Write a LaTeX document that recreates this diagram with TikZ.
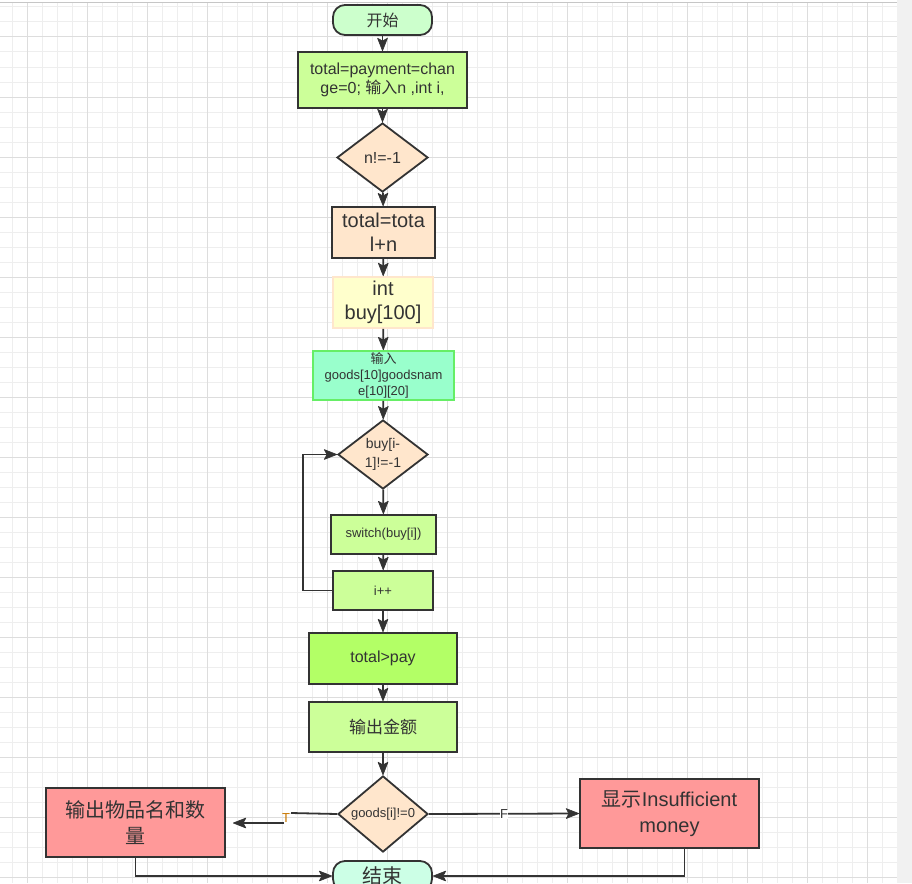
\documentclass[tikz,border=0pt]{standalone}
\usepackage{fontspec}
\setmainfont{Liberation Sans}
\newfontfamily\cjk{Noto Sans CJK SC}
\usetikzlibrary{arrows.meta,shapes.geometric}
\definecolor{ink}{HTML}{333333}
\definecolor{gminor}{HTML}{EEEEEE}
\definecolor{gmajor}{HTML}{DDDDDD}
\definecolor{fgreen}{HTML}{CCFF99}
\definecolor{fpeach}{HTML}{FFE6CC}
\definecolor{fyellow}{HTML}{FFFFCC}
\definecolor{fmint}{HTML}{99FFCC}
\definecolor{bmint}{HTML}{66EE66}
\definecolor{flime}{HTML}{B3FF66}
\definecolor{fred}{HTML}{FF9999}
\definecolor{fstart}{HTML}{CCFFCC}
\definecolor{fend}{HTML}{CCFFE6}
\definecolor{tcol}{HTML}{C87800}
\newcommand{\fs}[2]{\fontsize{#1}{#2}\selectfont}
\tikzset{
  base/.style={draw=ink, line width=1.8pt, text=ink, align=center, inner sep=0pt},
  boxnode/.style={base, rectangle},
  termnode/.style={base, rectangle, rounded corners=12pt, minimum width=99pt, minimum height=30pt},
  decnode/.style={base, diamond, minimum width=90pt, minimum height=69pt},
  conn/.style={draw=ink, line width=1.8pt},
  arr/.style={conn, -{Stealth[length=14pt,width=11pt,inset=3pt,line width=0.6pt,round]}},
}
\begin{document}
\begin{tikzpicture}[x=1pt,y=-1pt]
\useasboundingbox (0,0) rectangle (912,883);
\clip (0,0) rectangle (912,883);
\fill[white] (0,0) rectangle (912,883);
% grid
\foreach \x in {12,27,...,897} \draw[gminor, line width=1pt] (\x,3) -- (\x,883);
\foreach \y in {7,22,...,883} \draw[gminor, line width=1pt] (0,\y) -- (897,\y);
\foreach \x in {27,87,...,897} \draw[gmajor, line width=1pt] (\x,3) -- (\x,883);
\foreach \y in {37,97,...,883} \draw[gmajor, line width=1pt] (0,\y) -- (897,\y);
\draw[gray!45, line width=1pt] (0,3) -- (897,3);
\fill[gminor!80!white] (897,0) rectangle (912,883);

% nodes
\node[termnode, fill=fstart, font=\fs{16}{19}\cjk] (start) at (382.5,20) {开始};
\node[boxnode, fill=fgreen, minimum width=169pt, minimum height=56pt, font=\fs{16}{19}] (b1) at (382.5,80)
  {total=payment=chan\\ge=0; {\cjk 输入}n ,int i,};
\node[decnode, fill=fpeach, minimum width=91pt, font=\fs{16}{19}] (d1) at (382.5,157.5) {n!=-1};
\node[boxnode, fill=fpeach, minimum width=103pt, minimum height=51pt, font=\fs{20}{24}] (b2) at (383.5,232.5)
  {total=tota\\l+n};
\node[boxnode, fill=fyellow, draw=fpeach, minimum width=100pt, minimum height=51pt, font=\fs{20}{24}] (b3) at (383,302.5)
  {int\\buy[100]};
\node[boxnode, fill=fmint, draw=bmint, minimum width=141pt, minimum height=49pt, font=\fs{13}{16}] (b4) at (383.5,375.5)
  {{\cjk 输入}\\goods[10]goodsnam\\e[10][20]};
\node[decnode, fill=fpeach, font=\fs{14}{19}] (d2) at (383,454.5) {buy[i-\\1]!=-1};
\node[boxnode, fill=fgreen, minimum width=105pt, minimum height=39pt, font=\fs{13}{16}] (b5) at (383.5,534.5)
  {switch(buy[i])};
\node[boxnode, fill=fgreen, minimum width=100pt, minimum height=39pt, font=\fs{13}{16}] (b6) at (383,590.5)
  {i++};
\node[boxnode, fill=flime, minimum width=148pt, minimum height=51pt, font=\fs{16}{19}] (b7) at (383,658.5)
  {total>pay};
\node[boxnode, fill=fgreen, minimum width=148pt, minimum height=50pt, font=\fs{17}{20}\cjk] (b8) at (383,727)
  {输出金额};
\node[decnode, fill=fpeach, minimum height=70pt, font=\fs{13}{16}] (d3) at (383,814) {goods[i]!=0};
\node[boxnode, fill=fred, minimum width=179pt, minimum height=69pt, font=\fs{20}{26}\cjk] (b9) at (135.5,822.5)
  {输出物品名和数\\量};
\node[boxnode, fill=fred, minimum width=179pt, minimum height=69pt, font=\fs{20}{26}] (b10) at (669.5,813.5)
  {{\cjk 显示}Insufficient\\money};
\node[termnode, fill=fend, font=\fs{20}{24}\cjk] (end) at (382.5,876) {结束};

% connectors
\draw[arr] (start) -- (b1);
\draw[arr] (b1) -- (d1);
\draw[arr] (d1) -- (b2);
\draw[arr] (b2) -- (b3);
\draw[arr] (b3) -- (b4);
\draw[arr] (b4) -- (d2);
\draw[arr] (d2) -- (b5);
\draw[arr] (b5) -- (b6);
\draw[arr] (b6) -- (b7);
\draw[arr] (b7) -- (b8);
\draw[arr] (b8) -- (d3);
\coordinate (lp) at (303,590.5);
\draw[arr] (b6.west) -- (lp) |- (d2.west);
% T branch
\coordinate (tb1) at (291,813);
\coordinate (tb2) at (284,823);
\coordinate (tend) at (233,823);
\draw[conn] (d3.west) -- (tb1);
\draw[arr] (tb2) -- (tend);
\node[text=tcol, inner sep=0pt, font=\fs{13}{16}] (tlab) at (286,818) {T};
% F branch
\draw[arr] (d3.east) -- node[fill=white, inner sep=0.5pt, text=ink, font=\fs{13}{16}] (flab) {F} (b10.west);
% to end
\draw[arr] (b9.south) |- (end.west);
\coordinate (rb) at (684.5,848);
\draw[arr] (rb) |- (end.east);
\end{tikzpicture}
\end{document}
